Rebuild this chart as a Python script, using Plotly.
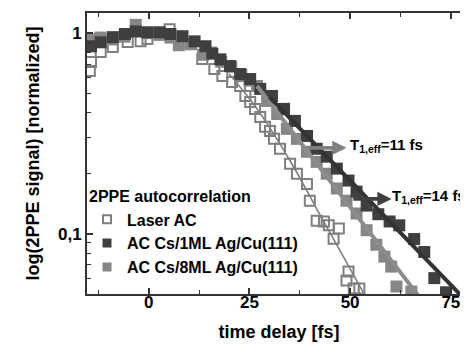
import math
import plotly.graph_objects as go

# ---------------- data ----------------
laser_t = [-14.6, -14.3, -11.9, -8.9, -5.2, -2.0, -0.3, 5.2, 13.3, 16.3, 18.3, 20.7, 22.7,
           24.0, 25.2, 26.4, 27.7, 28.9, 30.1, 31.1, 32.6, 35.1, 36.8, 39.3, 40.0, 41.7,
           43.5, 44.7, 45.9, 47.2, 49.1, 49.6, 50.9, 52.3]
laser_v = [0.647, 0.717, 0.804, 0.852, 0.902, 0.912, 0.934, 1.047, 0.742, 0.662, 0.611, 0.570, 0.545,
           0.486, 0.454, 0.419, 0.382, 0.341, 0.325, 0.297, 0.265, 0.223, 0.199, 0.177, 0.146, 0.116,
           0.115, 0.110, 0.0944, 0.106, 0.0584, 0.0647, 0.0532, 0.0532]

ml1_t = [-14.3, -11.9, -8.9, -5.9, -3.2, -0.3, 2.7, 5.4, 8.4, 11.4, 14.1, 15.8, 17.8, 20.2,
         22.7, 25.2, 27.7, 30.6, 33.6, 36.3, 39.3, 41.7, 44.2, 46.7, 49.6, 51.6, 54.1, 57.0,
         59.8, 62.2, 65.9, 68.4, 70.9, 73.8]
ml1_v = [0.86, 0.90, 0.955, 0.99, 1.02, 1.01, 1.01, 0.99, 0.965, 0.91, 0.86, 0.79, 0.74, 0.685,
         0.625, 0.59, 0.527, 0.486, 0.419, 0.365, 0.307, 0.265, 0.242, 0.211, 0.184, 0.162, 0.138, 0.125,
         0.115, 0.11, 0.094, 0.081, 0.060, 0.051]

ml8_t = [-14.5, -12.0, -9.0, -6.0, -3.2, 0.0, 2.7, 5.4, 7.5, 10.5, 13.5, 15.5, 18.0, 20.5, 23.0,
         25.0, 26.9, 29.4, 31.9, 34.3, 36.8, 39.3, 41.7, 44.2, 46.7, 49.1, 51.6, 54.1, 56.5, 58.5,
         60.2, 61.5, 65.2]
ml8_v = [0.93, 0.95, 0.93, 0.96, 1.10, 1.0, 0.98, 0.95, 0.87, 0.88, 0.78, 0.80, 0.72, 0.68, 0.62,
         0.58, 0.545, 0.459, 0.395, 0.333, 0.297, 0.256, 0.228, 0.199, 0.168, 0.146, 0.126, 0.104, 0.088, 0.0768,
         0.0685, 0.0545, 0.0514]

# fit curves
fit_laser_t = [20.0, 26.9, 35.1, 41.7, 47.9, 54.1]
fit_laser_v = [0.625, 0.419, 0.231, 0.133, 0.0795, 0.0475]
fit_ml1_t = [30.0, 79.0]
fit_ml1_v = [0.48, 0.0458]
fit_ml8_t = [26.9, 68.0]
fit_ml8_v = [0.545, 0.046]

# annotations: (tail_t, head_t, value, label_t, label)
arrow_11 = (39.3, 49.1, 0.268, 49.6, "T<sub>1,eff</sub>=11 fs")
arrow_14 = (50.4, 60.3, 0.149, 60.2, "T<sub>1,eff</sub>=14 fs")

x_ticks = [0, 25, 50, 75]
x_minor = [-12.5, 12.5, 37.5, 62.5]
y_ticks = [0.1, 1]
y_ticktext = ["0,1", "1"]
y_minor = [0.06, 0.07, 0.08, 0.09, 0.2, 0.3, 0.4, 0.5, 0.6, 0.7, 0.8, 0.9]

DARK = "#3f3f3f"
MID = "#868686"
EDGE = "#7f7f7f"
FONT = "Liberation Sans, Arial, sans-serif"

fig = go.Figure()
fig.add_trace(go.Scatter(x=laser_t, y=laser_v, mode="markers", showlegend=False,
                         marker=dict(symbol="square-open", size=10, color=EDGE, line=dict(width=2, color=EDGE))))
fig.add_trace(go.Scatter(x=ml8_t, y=ml8_v, mode="markers", showlegend=False,
                         marker=dict(symbol="square", size=12, color=MID, line=dict(width=0))))
fig.add_trace(go.Scatter(x=ml1_t, y=ml1_v, mode="markers", showlegend=False,
                         marker=dict(symbol="square", size=12, color=DARK, line=dict(width=0))))
fig.add_trace(go.Scatter(x=fit_laser_t, y=fit_laser_v, mode="lines", showlegend=False,
                         line=dict(color=EDGE, width=1.6, shape="spline")))
fig.add_trace(go.Scatter(x=fit_ml8_t, y=fit_ml8_v, mode="lines", showlegend=False,
                         line=dict(color="#8c8c8c", width=4)))
fig.add_trace(go.Scatter(x=fit_ml1_t, y=fit_ml1_v, mode="lines", showlegend=False,
                         line=dict(color="#333333", width=4)))

# legend entries (same styles, legend-sized symbols)
fig.add_trace(go.Scatter(x=[None], y=[None], mode="markers", name="Laser AC",
                         marker=dict(symbol="square-open", size=8, color=EDGE, line=dict(width=2, color=EDGE))))
fig.add_trace(go.Scatter(x=[None], y=[None], mode="markers", name="AC Cs/1ML Ag/Cu(111)",
                         marker=dict(symbol="square", size=9, color=DARK)))
fig.add_trace(go.Scatter(x=[None], y=[None], mode="markers", name="AC Cs/8ML Ag/Cu(111)",
                         marker=dict(symbol="square", size=9, color=MID)))

for (tail, head, val, lab_t, label), col in ((arrow_11, "#808080"), (arrow_14, "#404040")):
    ly = math.log10(val)
    fig.add_annotation(x=head, y=ly, ax=tail, ay=ly, axref="x", ayref="y", xref="x", yref="y",
                       text="", showarrow=True, arrowhead=2, arrowsize=0.75, arrowwidth=3.8,
                       arrowcolor=col, standoff=0, startstandoff=0)
    fig.add_annotation(x=lab_t, y=ly + 0.01, xref="x", yref="y", text=label, showarrow=False,
                       xanchor="left", yanchor="middle", borderpad=0,
                       font=dict(family=FONT, size=15, color="black", weight="bold"))

fig.update_layout(
    width=468, height=349,
    margin=dict(l=79, r=3, t=4, b=63),
    paper_bgcolor="white", plot_bgcolor="white",
    font=dict(family=FONT, size=17, color="black", weight="bold"),
    showlegend=True,
    legend=dict(x=0.0, y=0.40, xanchor="left", yanchor="top", bgcolor="rgba(0,0,0,0)",
                title=dict(text="2PPE autocorrelation", font=dict(family=FONT, size=16, weight="bold")),
                font=dict(family=FONT, size=16, weight="bold"), tracegroupgap=0),
    xaxis=dict(range=[-15.3, 80], tickvals=x_ticks, ticks="inside", ticklen=6, tickwidth=1.5,
               tickcolor="#333", showline=True, linecolor="#333", linewidth=1.8, mirror="ticks",
               showgrid=False, zeroline=False, tickfont=dict(size=17, weight="bold"),
               ticklabelstandoff=-8,
               minor=dict(tickvals=x_minor, ticks="inside", ticklen=4, tickwidth=1.2, tickcolor="#333"),
               title=dict(text="time delay [fs]", font=dict(size=18, weight="bold"), standoff=14)),
    yaxis=dict(type="log", range=[math.log10(0.05), math.log10(1.26)], tickvals=y_ticks,
               ticktext=y_ticktext, ticks="inside", ticklen=6, tickwidth=1.5, tickcolor="#333",
               showline=True, linecolor="#333", linewidth=1.8, mirror="ticks", showgrid=False,
               zeroline=False, tickfont=dict(size=17, weight="bold"),
               minor=dict(tickvals=y_minor, ticks="inside", ticklen=4, tickwidth=1.2, tickcolor="#333"),
               title=dict(text="log(2PPE signal) [normalized]", font=dict(size=18, weight="bold"), standoff=14)),
)

fig.write_html("out.html")
